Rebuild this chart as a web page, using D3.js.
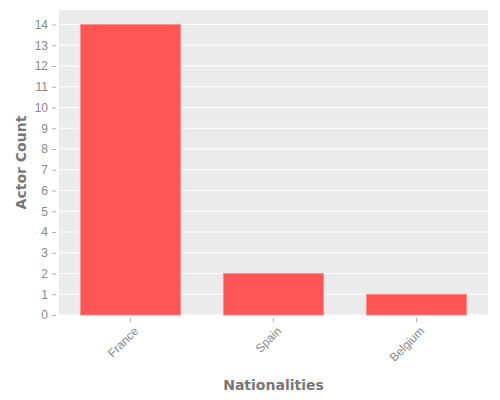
<!DOCTYPE html>
<meta charset="utf-8">
<style>
body { margin: 0; }
svg { font-family: "DejaVu Sans", sans-serif; }
.axis text { fill: #888; font-size: 12px; }
.axis line { stroke: #b0b0b0; }
.axis path { display: none; }
.title { fill: #777; font-size: 14px; font-weight: bold; }
</style>
<svg class="chart" width="500" height="400"></svg>
<script src="https://d3js.org/d3.v7.min.js"></script>
<script>

var nationalities = ["France", "Spain", "Belgium"];
var actorCounts = [14, 2, 1];
var yTicks = [0, 1, 2, 3, 4, 5, 6, 7, 8, 9, 10, 11, 12, 13, 14];

var panel = {left: 59, right: 488, top: 10, bottom: 315};

var x = d3.scaleBand()
    .domain(nationalities)
    .range([panel.left, panel.right])
    .paddingInner(0.3)
    .paddingOuter(0.15);
var y = d3.scaleLinear()
    .domain([0, 14.7])
    .range([panel.bottom, panel.top]);

var svg = d3.select(".chart");

svg.append("rect")
    .attr("x", panel.left)
    .attr("y", panel.top)
    .attr("width", panel.right - panel.left)
    .attr("height", panel.bottom - panel.top)
    .attr("fill", "#ebebeb");

svg.append("g")
    .selectAll("line")
    .data(yTicks)
    .enter()
    .append("line")
      .attr("x1", panel.left)
      .attr("x2", panel.right)
      .attr("y1", function(d){ return y(d); })
      .attr("y2", function(d){ return y(d); })
      .attr("stroke", "#fff")
      .attr("stroke-width", 1.1);

svg.append("g")
    .selectAll("rect")
    .data(actorCounts)
    .enter()
    .append("rect")
      .attr("x", function(d, i){ return x(nationalities[i]); })
      .attr("y", function(d){ return y(d); })
      .attr("width", x.bandwidth())
      .attr("height", function(d){ return y(0) - y(d); })
      .attr("fill", "#ff5555")
      .attr("stroke", "#ff9090")
      .attr("stroke-width", 1);

svg.append("g")
    .attr("class", "axis")
    .attr("transform", "translate(" + (panel.left - 3) + ",0)")
    .call(d3.axisLeft(y).tickValues(yTicks).tickSize(4).tickPadding(4));

svg.append("g")
    .attr("class", "axis")
    .attr("transform", "translate(0," + (panel.bottom + 3) + ")")
    .call(d3.axisBottom(x).tickSize(4).tickPadding(4))
    .selectAll("text")
      .style("text-anchor", "end")
      .attr("dx", "-0.3em")
      .attr("dy", "0.65em")
      .attr("transform", "rotate(-45)");

svg.append("text")
    .attr("class", "title")
    .attr("x", (panel.left + panel.right) / 2)
    .attr("y", 390)
    .attr("text-anchor", "middle")
    .text("Nationalities");

svg.append("text")
    .attr("class", "title")
    .attr("transform", "translate(26," + (panel.top + panel.bottom) / 2 + ") rotate(-90)")
    .attr("text-anchor", "middle")
    .text("Actor Count");
</script>
